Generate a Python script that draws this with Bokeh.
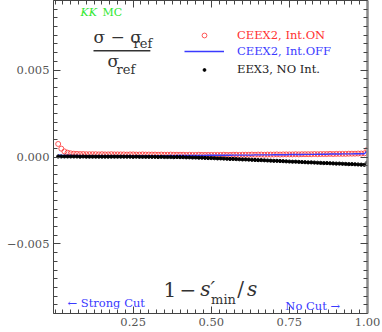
from bokeh.plotting import figure
from bokeh.models import (Label, Legend, LegendItem, LinearAxis, FixedTicker,
                          CustomJSTickFormatter, ColumnDataSource)
from bokeh.embed import file_html
from bokeh.resources import INLINE

# ---------------- data ----------------
x_vals = [round(0.01 * i, 2) for i in range(1, 101)]

ceex2_on = [
    0.00075, 0.00048, 0.00032, 0.00025, 0.00021, 0.00019, 0.00018, 0.00017, 0.00017, 0.00016,
    0.00016, 0.00016, 0.00016, 0.00015, 0.00016, 0.00015, 0.00015, 0.00016, 0.00015, 0.00015,
    0.00015, 0.00015, 0.00014, 0.00015, 0.00015, 0.00014, 0.00014, 0.00015, 0.00014, 0.00014,
    0.00014, 0.00014, 0.00013, 0.00014, 0.00013, 0.00013, 0.00014, 0.00013, 0.00013, 0.00013,
    0.00013, 0.00012, 0.00013, 0.00012, 0.00012, 0.00013, 0.00012, 0.00012, 0.00012, 0.00012,
    0.00012, 0.00012, 0.00012, 0.00013, 0.00012, 0.00012, 0.00013, 0.00013, 0.00012, 0.00013,
    0.00013, 0.00013, 0.00014, 0.00013, 0.00014, 0.00014, 0.00013, 0.00014, 0.00014, 0.00014,
    0.00015, 0.00014, 0.00015, 0.00015, 0.00015, 0.00015, 0.00016, 0.00015, 0.00016, 0.00016,
    0.00016, 0.00016, 0.00017, 0.00016, 0.00017, 0.00017, 0.00017, 0.00018, 0.00017, 0.00018,
    0.00018, 0.00018, 0.00018, 0.00019, 0.00019, 0.00019, 0.00020, 0.00020, 0.00021, 0.00042,
]

ceex2_off = [
    0.00012, 0.00010, 0.00009, 0.00009, 0.00009, 0.00008, 0.00009, 0.00008, 0.00008, 0.00008,
    0.00008, 0.00008, 0.00008, 0.00008, 0.00008, 0.00008, 0.00008, 0.00008, 0.00008, 0.00008,
    0.00008, 0.00008, 0.00008, 0.00008, 0.00008, 0.00008, 0.00008, 0.00008, 0.00008, 0.00008,
    0.00008, 0.00008, 0.00008, 0.00008, 0.00008, 0.00008, 0.00009, 0.00008, 0.00009, 0.00009,
    0.00009, 0.00009, 0.00009, 0.00009, 0.00009, 0.00009, 0.00009, 0.00009, 0.00010, 0.00010,
    0.00010, 0.00010, 0.00010, 0.00010, 0.00010, 0.00010, 0.00011, 0.00011, 0.00011, 0.00011,
    0.00011, 0.00011, 0.00011, 0.00012, 0.00012, 0.00012, 0.00012, 0.00012, 0.00012, 0.00013,
    0.00013, 0.00013, 0.00013, 0.00013, 0.00014, 0.00014, 0.00014, 0.00014, 0.00014, 0.00015,
    0.00015, 0.00015, 0.00015, 0.00016, 0.00016, 0.00016, 0.00016, 0.00017, 0.00017, 0.00017,
    0.00017, 0.00018, 0.00018, 0.00018, 0.00018, 0.00019, 0.00019, 0.00019, 0.00019, 0.00036,
]

eex3_noint = [
    0.00003, 0.00003, 0.00003, 0.00003, 0.00003, 0.00003, 0.00003, 0.00002, 0.00003, 0.00002,
    0.00002, 0.00002, 0.00002, 0.00002, 0.00002, 0.00002, 0.00002, 0.00002, 0.00002, 0.00002,
    0.00002, 0.00002, 0.00002, 0.00002, 0.00001, 0.00002, 0.00001, 0.00001, 0.00001, 0.00001,
    0.00001, 0.00001, 0.00000, 0.00001, 0.00000, 0.00000, 0.00000, -0.00001, 0.00000, -0.00001,
    -0.00001, -0.00002, -0.00002, -0.00003, -0.00003, -0.00004, -0.00004, -0.00005, -0.00006, -0.00006,
    -0.00007, -0.00008, -0.00008, -0.00009, -0.00010, -0.00011, -0.00011, -0.00012, -0.00013, -0.00014,
    -0.00014, -0.00015, -0.00016, -0.00017, -0.00018, -0.00018, -0.00019, -0.00020, -0.00021, -0.00022,
    -0.00022, -0.00023, -0.00024, -0.00025, -0.00026, -0.00027, -0.00027, -0.00028, -0.00029, -0.00030,
    -0.00031, -0.00031, -0.00032, -0.00033, -0.00034, -0.00035, -0.00035, -0.00036, -0.00037, -0.00038,
    -0.00038, -0.00039, -0.00040, -0.00041, -0.00041, -0.00042, -0.00043, -0.00044, -0.00045, -0.00030,
]

series_labels = ["CEEX2, Int.ON", "CEEX2, Int.OFF", "EEX3, NO Int."]
x_ticks = [0.25, 0.50, 0.75, 1.00]
y_ticks = [-0.005, 0.0, 0.005]
x_minor = [round(0.025 * i, 3) for i in range(0, 41)]
y_minor = [round(0.0005 * i, 4) for i in range(-18, 19)]

# ---------------- styling ----------------
SERIF = "DejaVu Serif"
RED = "#ff3030"
BLUE = "#3a3aff"
GREEN = "#2ee82e"
DARK = "#333333"

src = ColumnDataSource(dict(x=x_vals, on=ceex2_on, off=ceex2_off, noint=eex3_noint))

p = figure(width=382, height=332, x_range=(-0.005, 1.0), y_range=(-0.009, 0.009),
           output_backend="svg", toolbar_location=None,
           min_border_left=53, min_border_right=15, min_border_top=0, min_border_bottom=19)
p.xgrid.visible = False
p.ygrid.visible = False
p.outline_line_color = None
p.background_fill_color = "white"
p.border_fill_color = "white"

yfmt = CustomJSTickFormatter(code="""
    const v = Math.abs(tick) < 1e-12 ? 0 : tick;
    return (v < 0 ? "\u2212" : "") + Math.abs(v).toFixed(3);
""")
blankfmt = CustomJSTickFormatter(code='return "";')


def style_axis(ax, labels=True):
    ax.major_tick_in = 7
    ax.major_tick_out = 0
    ax.minor_tick_in = 4
    ax.minor_tick_out = 0
    ax.axis_line_color = "#444444"
    ax.major_tick_line_color = "#444444"
    ax.minor_tick_line_color = "#444444"
    if labels:
        ax.major_label_text_font = SERIF
        ax.major_label_text_font_size = "11.5px"
        ax.major_label_text_color = "#555555"
        ax.major_label_standoff = 4
    else:
        ax.formatter = blankfmt
        ax.major_label_text_font_size = "1px"
        ax.major_label_standoff = 0


xa = p.xaxis[0]
xa.ticker = FixedTicker(ticks=x_ticks, minor_ticks=x_minor)
xa.formatter = CustomJSTickFormatter(code="return tick.toFixed(2);")
style_axis(xa)

ya = p.yaxis[0]
ya.ticker = FixedTicker(ticks=y_ticks, minor_ticks=y_minor)
ya.formatter = yfmt
style_axis(ya)

top = LinearAxis(ticker=FixedTicker(ticks=x_ticks, minor_ticks=x_minor))
style_axis(top, labels=False)
p.add_layout(top, "above")

right = LinearAxis(ticker=FixedTicker(ticks=y_ticks, minor_ticks=y_minor))
style_axis(right, labels=False)
right.axis_line_color = "#8a8a8a"
right.axis_line_width = 2.5
p.add_layout(right, "right")

# ---------------- series ----------------
r_on = p.scatter("x", "on", source=src, marker="circle", size=5,
                 fill_color=None, line_color=RED, line_width=1, line_alpha=0.8)
r_off = p.line("x", "off", source=src, line_color=BLUE, line_width=1.4)
r_no = p.scatter("x", "noint", source=src, marker="circle", size=3.2,
                 fill_color="black", line_color="black")

# ---------------- legends (one per coloured label) ----------------
for rend, lab_, col, ypos, gh in [(r_on, series_labels[0], RED, 270, 12),
                                  (r_off, series_labels[1], BLUE, 254, 16),
                                  (r_no, series_labels[2], "#222222", 236, 7)]:
    leg = Legend(items=[LegendItem(label=lab_, renderers=[rend])],
                 location=(131, ypos), padding=0, margin=0, spacing=0,
                 glyph_width=40, glyph_height=gh, label_height=16,
                 label_standoff=13, label_text_font=SERIF,
                 label_text_font_size="11.5px", label_text_color=col,
                 background_fill_alpha=0, border_line_color=None)
    p.add_layout(leg, "center")

# ---------------- annotations ----------------
def lab(x, y, text, size, color=DARK, style="normal", align="left"):
    p.add_layout(Label(x=x, y=y, text=text, text_font=SERIF, text_font_size=size,
                       text_color=color, text_font_style=style,
                       text_baseline="middle", text_align=align))


lab(0.0814, 0.00830, "KK", "11px", GREEN, "italic")
lab(0.1518, 0.00830, "MC", "11px", GREEN)

# fraction (sigma - sigma_ref) / sigma_ref
lab(0.123, 0.00692, "σ − σ", "17px")
lab(0.251, 0.00651, "ref", "13px")
p.segment(x0=[0.123], y0=[0.00611], x1=[0.305], y1=[0.00611], line_color=DARK, line_width=1.4)
lab(0.168, 0.00553, "σ", "17px")
lab(0.197, 0.00501, "ref", "13px")

# x-axis label drawn inside the frame: 1 - s'_min / s
lab(0.347, -0.00761, "1", "20px")
lab(0.398, -0.00761, "−", "20px")
lab(0.465, -0.00761, "s′", "20px", DARK, "italic")
lab(0.4995, -0.00819, "min", "13px")
lab(0.583, -0.00761, "/", "20px")
lab(0.614, -0.00761, "s", "20px", DARK, "italic")

lab(0.0398, -0.00842, "← Strong Cut", "11.5px", BLUE)
lab(0.737, -0.00854, "No Cut →", "11.5px", BLUE)

open("out.html", "w").write(file_html(p, INLINE))
